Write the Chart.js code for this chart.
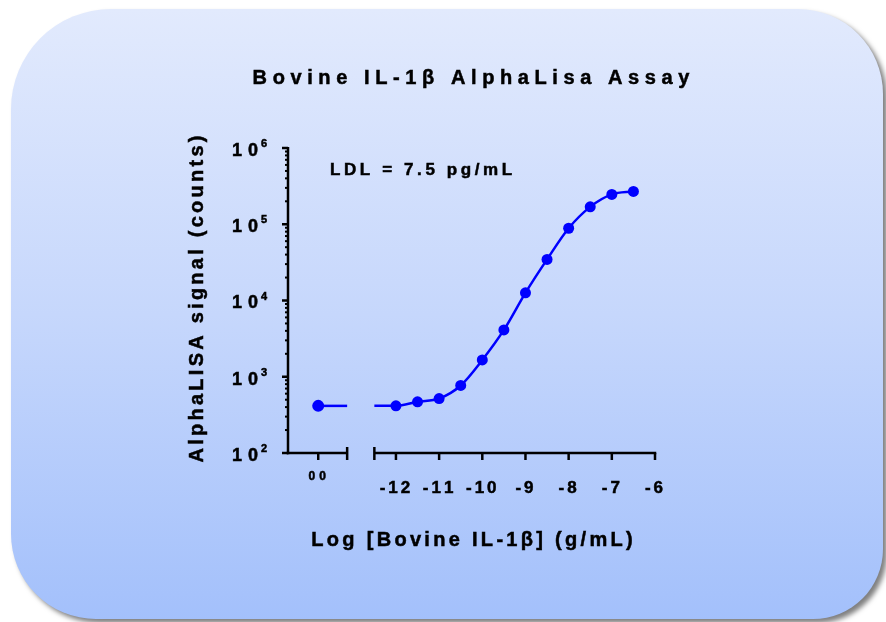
<!DOCTYPE html>
<html>
<head>
<meta charset="utf-8">
<title>Bovine IL-1β AlphaLisa Assay</title>
<script src="https://cdn.jsdelivr.net/npm/chart.js@4.4.1/dist/chart.umd.min.js"></script>
<style>
  html, body { margin: 0; padding: 0; background: #fff; }
  #wrap { width: 886px; height: 622px; }
</style>
</head>
<body>
<div id="wrap"><canvas id="assay" width="886" height="622"></canvas></div>
<script>
// standard curve: log10 concentration (g/mL) vs AlphaLISA counts
const logConc = [-12, -11.5, -11, -10.5, -10, -9.5, -9, -8.5, -8, -7.5, -7, -6.5];
const signal = [415, 469, 518, 769, 1660, 4110, 12600, 34600, 88600, 169000, 246000, 269000];

// fitted curve (starts right after the axis break)
const fitLogConc = [-12.5, -12, -11.5, -11, -10.5, -10, -9.5, -9, -8.5, -8, -7.5, -7, -6.5];
const fitSignal = [415, 415, 469, 518, 769, 1660, 4110, 12600, 34600, 88600, 169000, 246000, 269000];

// zero-concentration well sits on its own short segment, labelled "00"
const zeroPos = -13.8;
const zeroSignal = 415;
const zeroLabel = '00';

// axis break
const segLeftEnd = -13.13;
const segRightStart = -12.5;

const xTicks = [-12, -11, -10, -9, -8, -7, -6];
const xTickLabels = ['-12', '-11', '-10', '-9', '-8', '-7', '-6'];
const yTicks = [1e2, 1e3, 1e4, 1e5, 1e6];
const yTickExp = ['2', '3', '4', '5', '6'];
const yMinorSteps = [2, 3, 4, 5, 6, 7, 8, 9];

const titleText = 'Bovine IL-1\u03b2 AlphaLisa Assay';
const xTitleText = 'Log [Bovine IL-1\u03b2] (g/mL)';
const yTitleText = 'AlphaLISA signal (counts)';
const ldlText = 'LDL = 7.5 pg/mL';

const BLUE = '#0000ff';
const FONT = '"Liberation Sans", Arial, Helvetica, sans-serif';

// canvas text with letter spacing, drawn char by char (with a thin stroke to thicken it)
function spacedText(ctx, text, x, y, spacing, align) {
    const chars = [...text];
    const widths = chars.map(c => ctx.measureText(c).width);
    const total = widths.reduce((a, b) => a + b, 0) + spacing * (chars.length - 1);
    let cx = x;
    if (align === 'center') cx = x - total / 2;
    else if (align === 'right') cx = x - total;
    ctx.textAlign = 'left';
    chars.forEach((c, i) => {
        ctx.fillText(c, cx, y);
        ctx.strokeText(c, cx, y);
        cx += widths[i] + spacing;
    });
    return total;
}

function line(ctx, x1, y1, x2, y2) {
    ctx.beginPath();
    ctx.moveTo(x1, y1);
    ctx.lineTo(x2, y2);
    ctx.stroke();
}

const panelPlugin = {
    id: 'panel',
    beforeDraw(chart) {
        const ctx = chart.ctx;
        ctx.save();
        ctx.fillStyle = '#ffffff';
        ctx.fillRect(0, 0, chart.width, chart.height);
        const g = ctx.createLinearGradient(0, 9, 0, 620);
        g.addColorStop(0, '#e2eafd');
        g.addColorStop(0.5, '#c6d7fc');
        g.addColorStop(1, '#a3c0fb');
        ctx.shadowColor = 'rgba(0,0,0,0.5)';
        ctx.shadowBlur = 5;
        ctx.shadowOffsetX = 4;
        ctx.shadowOffsetY = 4;
        ctx.fillStyle = g;
        ctx.beginPath();
        ctx.roundRect(11, 9, 872, 610, [100, 85, 70, 85]);
        ctx.fill();
        ctx.restore();
    }
};

const axesPlugin = {
    id: 'brokenAxes',
    beforeDatasetsDraw(chart) {
        const ctx = chart.ctx;
        const xs = chart.scales.x;
        const ys = chart.scales.y;
        const x0 = xs.getPixelForValue(xs.min);
        const yb = ys.getPixelForValue(ys.min);
        const yt = ys.getPixelForValue(ys.max);
        ctx.save();
        ctx.strokeStyle = '#000';
        ctx.lineCap = 'butt';

        // y axis
        ctx.lineWidth = 2.5;
        line(ctx, x0, yt - 1, x0, yb + 1.25);
        yTicks.forEach(v => {
            const p = ys.getPixelForValue(v);
            line(ctx, x0 - 6, p, x0, p);
        });
        ctx.lineWidth = 2;
        yTicks.slice(0, -1).forEach(d => {
            yMinorSteps.forEach(m => {
                const p = ys.getPixelForValue(d * m);
                line(ctx, x0 - 3, p, x0, p);
            });
        });

        // x axis, two segments
        ctx.lineWidth = 2.5;
        const pl = xs.getPixelForValue(segLeftEnd);
        const pr = xs.getPixelForValue(segRightStart);
        line(ctx, x0 - 1.25, yb, pl, yb);
        line(ctx, pr, yb, xs.getPixelForValue(xs.max) + 1.25, yb);
        line(ctx, pl, yb - 6, pl, yb + 7);
        line(ctx, pr, yb - 6, pr, yb + 7);
        [zeroPos, ...xTicks].forEach(v => {
            const p = xs.getPixelForValue(v);
            line(ctx, p, yb, p, yb + 7);
        });
        ctx.restore();
    },
    afterDraw(chart) {
        const ctx = chart.ctx;
        const xs = chart.scales.x;
        const ys = chart.scales.y;
        const x0 = xs.getPixelForValue(xs.min);
        ctx.save();
        ctx.fillStyle = '#000';
        ctx.strokeStyle = '#000';
        ctx.lineWidth = 0.5;
        ctx.textBaseline = 'middle';

        // title
        ctx.font = 'bold 20px ' + FONT;
        spacedText(ctx, titleText, 471, 78, 5.6, 'center');

        // x title
        spacedText(ctx, xTitleText, 472, 540, 3.3, 'center');

        // y title
        ctx.save();
        ctx.translate(197, 299);
        ctx.rotate(-Math.PI / 2);
        spacedText(ctx, yTitleText, 0, 0, 3.25, 'center');
        ctx.restore();

        // LDL note
        ctx.font = 'bold 17px ' + FONT;
        spacedText(ctx, ldlText, 330, 170, 3.6, 'left');

        // x tick labels
        xTicks.forEach((v, i) => {
            spacedText(ctx, xTickLabels[i], xs.getPixelForValue(v) - 1, 488, 3, 'center');
        });
        ctx.font = 'bold 12px ' + FONT;
        spacedText(ctx, zeroLabel, xs.getPixelForValue(zeroPos) - 1, 477, 4, 'center');

        // y tick labels 10^n
        yTicks.forEach((v, i) => {
            const p = ys.getPixelForValue(v);
            ctx.font = 'bold 18px ' + FONT;
            spacedText(ctx, '10', x0 - 30, p + 3, 6, 'right');
            ctx.font = 'bold 11px ' + FONT;
            spacedText(ctx, yTickExp[i], x0 - 27, p - 4, 0, 'left');
        });
        ctx.restore();
    }
};

const pts = (xsArr, ysArr) => xsArr.map((v, i) => ({ x: v, y: ysArr[i] }));

new Chart(document.getElementById('assay'), {
    type: 'scatter',
    data: {
        datasets: [
            {
                label: 'fit',
                data: pts(fitLogConc, fitSignal),
                showLine: true,
                borderColor: BLUE,
                borderWidth: 2.5,
                pointRadius: 0,
                cubicInterpolationMode: 'monotone',
                clip: false,
            },
            {
                label: 'zero',
                data: [{ x: zeroPos, y: zeroSignal }, { x: segLeftEnd, y: zeroSignal }],
                showLine: true,
                borderColor: BLUE,
                backgroundColor: BLUE,
                borderWidth: 2.5,
                pointRadius: [6, 0],
                pointBorderWidth: 0,
                clip: false,
            },
            {
                label: 'standards',
                data: pts(logConc, signal),
                borderColor: BLUE,
                backgroundColor: BLUE,
                pointRadius: 5.5,
                pointBorderWidth: 0,
                clip: false,
            },
        ]
    },
    options: {
        responsive: false,
        animation: false,
        devicePixelRatio: 1,
        layout: {
            padding: { left: 288, right: 231, top: 148, bottom: 169 }
        },
        scales: {
            x: { type: 'linear', min: -14.5, max: -6, display: false },
            y: { type: 'logarithmic', min: 100, max: 1e6, display: false },
        },
        plugins: {
            legend: { display: false },
            tooltip: { enabled: false },
        }
    },
    plugins: [panelPlugin, axesPlugin]
});
</script>
</body>
</html>
